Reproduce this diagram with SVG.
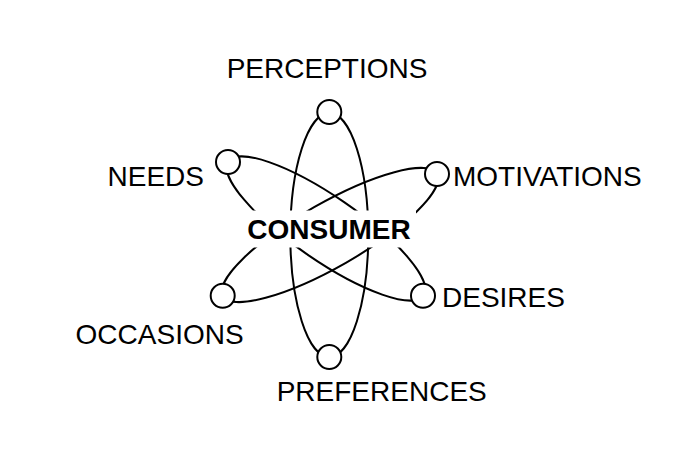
<svg xmlns="http://www.w3.org/2000/svg" width="683" height="452" viewBox="0 0 683 452">
<style>
.orbit{fill:none;stroke:#000;stroke-width:2}
.dot{fill:#fff;stroke:#000;stroke-width:2}
.lbl{font-family:"Liberation Sans",Arial,sans-serif;font-size:28px;fill:#000}
.core{font-family:"Liberation Sans",Arial,sans-serif;font-size:28px;font-weight:bold;fill:#000}
</style>
<rect width="683" height="452" fill="#fff"/>
<g id="connectors">
<ellipse class="orbit" cx="329.3" cy="235" rx="39" ry="122"/>
<ellipse class="orbit" cx="0" cy="0" rx="118.5" ry="32" transform="translate(326 228.5) rotate(34.5)"/>
<ellipse class="orbit" cx="0" cy="0" rx="123" ry="32" transform="translate(330 235) rotate(-29.7)"/>
</g>
<g id="consumer">
<rect x="244" y="210.5" width="172" height="37" fill="#fff"/>
<text class="core" x="329" y="238.5" text-anchor="middle">CONSUMER</text>
</g>
<g id="perceptions">
<circle class="dot" cx="329.3" cy="112" r="12"/>
<text class="lbl" x="226.7" y="77.5">PERCEPTIONS</text>
</g>
<g id="needs">
<circle class="dot" cx="228" cy="162" r="12"/>
<text class="lbl" x="204" y="185.5" text-anchor="end">NEEDS</text>
</g>
<g id="motivations">
<circle class="dot" cx="437" cy="174" r="12"/>
<text class="lbl" x="453" y="185.5">MOTIVATIONS</text>
</g>
<g id="desires">
<circle class="dot" cx="423" cy="295.7" r="12"/>
<text class="lbl" x="442" y="306.5">DESIRES</text>
</g>
<g id="occasions">
<circle class="dot" cx="222.7" cy="295.7" r="12"/>
<text class="lbl" x="75.6" y="344">OCCASIONS</text>
</g>
<g id="preferences">
<circle class="dot" cx="329.3" cy="357" r="12"/>
<text class="lbl" x="276.7" y="400.5">PREFERENCES</text>
</g>
</svg>
